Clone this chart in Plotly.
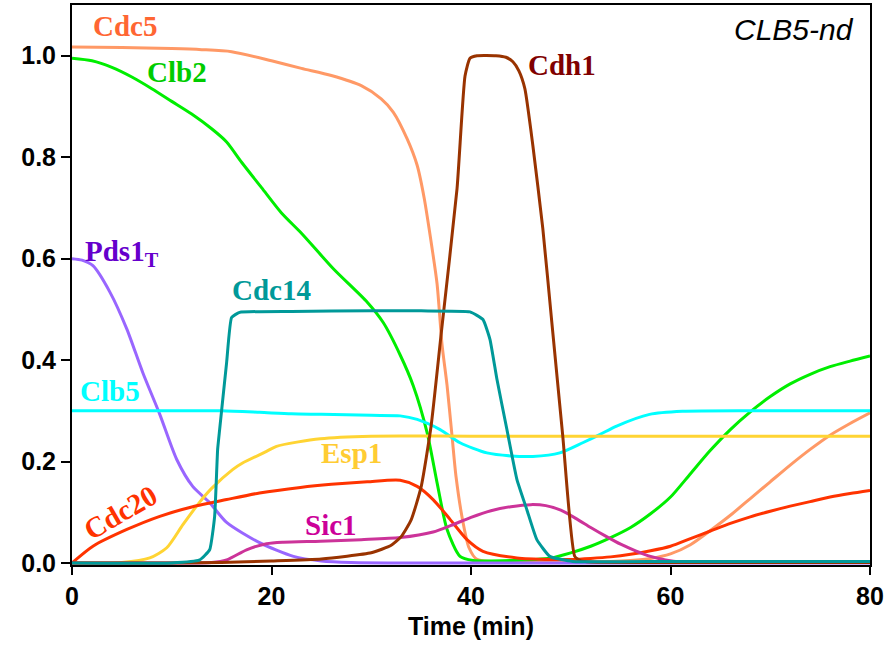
import plotly.graph_objects as go

# ---- data ----
cdc5_x = [0, 5, 10, 13, 16, 20, 23, 26, 29, 31, 32.2, 33.6, 34.6, 35.3, 36.1, 36.6, 37.1, 37.6, 38.1, 38.5, 39.2, 39.8, 40.6, 45, 50, 54, 56, 58, 60, 62, 64, 66, 68, 70, 72, 74, 76, 78, 80]
cdc5_y = [1.017, 1.016, 1.014, 1.012, 1.008, 0.99, 0.975, 0.961, 0.941, 0.915, 0.889, 0.836, 0.784, 0.72, 0.62, 0.55, 0.43, 0.35, 0.25, 0.17, 0.08, 0.03, 0.007, 0.002, 0.002, 0.003, 0.005, 0.009, 0.018, 0.036, 0.064, 0.094, 0.127, 0.16, 0.193, 0.224, 0.252, 0.275, 0.296]

clb2_x = [0, 2, 4, 6, 8, 10, 12, 14, 15.5, 17, 19, 21, 23, 26.2, 29.6, 31.2, 32.9, 34.2, 35.6, 36.6, 37.6, 38.9, 40.2, 44, 48, 50, 52, 54, 56, 58, 60, 62, 64, 66, 68, 70, 72, 74, 76, 78, 80]
clb2_y = [0.995, 0.99, 0.977, 0.958, 0.935, 0.91, 0.885, 0.856, 0.83, 0.79, 0.74, 0.69, 0.65, 0.58, 0.514, 0.474, 0.41, 0.35, 0.257, 0.158, 0.066, 0.013, 0.005, 0.005, 0.01, 0.02, 0.033, 0.05, 0.07, 0.097, 0.13, 0.176, 0.222, 0.263, 0.298, 0.328, 0.353, 0.372, 0.387, 0.398, 0.408]

cdh1_x = [0, 10, 15, 20, 25, 30, 32, 33, 34, 35, 36, 37, 38.6, 39.4, 39.9, 40.6, 42.5, 43.5, 44.2, 44.8, 45.4, 46.2, 47.2, 48.1, 49.2, 50.4, 51, 52, 60, 70, 80]
cdh1_y = [0, 0, 0.001, 0.004, 0.008, 0.02, 0.035, 0.052, 0.085, 0.15, 0.27, 0.45, 0.738, 0.96, 0.995, 1.0, 1.0, 0.997, 0.988, 0.97, 0.935, 0.823, 0.659, 0.475, 0.25, 0.013, 0.004, 0.002, 0.001, 0.001, 0.001]

pds1_x = [0, 1, 2.1, 3.8, 5.5, 7.1, 8.8, 10.5, 12.1, 13.8, 15.5, 18.8, 22.2, 25, 28, 35, 80]
pds1_y = [0.6, 0.597, 0.586, 0.534, 0.461, 0.375, 0.293, 0.204, 0.151, 0.119, 0.08, 0.04, 0.013, 0.004, 0.001, 0, 0]

cdc14_x = [0, 10, 12.8, 13.8, 14.3, 14.6, 14.8, 15.5, 16, 16.8, 22, 30, 35, 39.9, 41.2, 41.9, 42.6, 43.6, 44.6, 45.6, 46.6, 47.9, 50.2, 60, 80]
cdc14_y = [0, 0, 0.006, 0.026, 0.092, 0.224, 0.263, 0.395, 0.484, 0.494, 0.496, 0.497, 0.497, 0.495, 0.48, 0.441, 0.362, 0.263, 0.165, 0.105, 0.046, 0.013, 0.003, 0.003, 0.003]

clb5_x = [0, 10, 15, 18.8, 22, 25, 30, 32.9, 34.6, 36.9, 38.9, 41.6, 44, 46.2, 48.9, 51.2, 52.9, 54.6, 57.9, 61.2, 70, 80]
clb5_y = [0.3, 0.3, 0.3, 0.297, 0.294, 0.293, 0.291, 0.29, 0.283, 0.263, 0.237, 0.217, 0.211, 0.21, 0.217, 0.237, 0.253, 0.27, 0.293, 0.299, 0.3, 0.3]

esp1_x = [0, 5, 7.8, 9.5, 11.1, 12.8, 14, 16.1, 17.1, 19.5, 20.5, 24.9, 30, 40, 80]
esp1_y = [0, 0.001, 0.01, 0.03, 0.075, 0.12, 0.147, 0.184, 0.197, 0.22, 0.23, 0.245, 0.25, 0.25, 0.25]

cdc20_x = [0, 2.1, 5.5, 8.8, 12.1, 15.5, 18.8, 22.9, 26, 29.6, 32.9, 34.6, 36.2, 37.9, 39.6, 41.2, 44.6, 48, 50, 52, 54, 56, 58, 60, 62, 64, 66, 68, 70, 72, 74, 76, 78, 80]
cdc20_y = [0, 0.033, 0.066, 0.092, 0.111, 0.125, 0.138, 0.149, 0.155, 0.16, 0.163, 0.151, 0.125, 0.086, 0.046, 0.023, 0.01, 0.007, 0.007, 0.009, 0.012, 0.017, 0.024, 0.033, 0.048, 0.063, 0.078, 0.091, 0.102, 0.112, 0.121, 0.13, 0.137, 0.143]

sic1_x = [0, 10, 14, 15.5, 17.5, 19.5, 21.2, 24.9, 29, 32.9, 36.2, 38, 40, 42, 44, 46, 47.5, 49, 50.5, 52, 53.5, 55, 56.5, 58, 59.5, 61, 65, 80]
sic1_y = [0, 0, 0.001, 0.006, 0.026, 0.038, 0.041, 0.043, 0.046, 0.05, 0.061, 0.074, 0.09, 0.103, 0.111, 0.115, 0.113, 0.104, 0.088, 0.07, 0.053, 0.037, 0.024, 0.013, 0.006, 0.002, 0.001, 0.001]

x_ticks = [0, 20, 40, 60, 80]
y_ticks = [0.0, 0.2, 0.4, 0.6, 0.8, 1.0]
y_tick_text = ["0.0", "0.2", "0.4", "0.6", "0.8", "1.0"]

series = [
    ("Cdc5", cdc5_x, cdc5_y, "#FF9966", 0.7),
    ("Clb2", clb2_x, clb2_y, "#00EE00", 0.7),
    ("Pds1", pds1_x, pds1_y, "#9966FF", 0.7),
    ("Clb5", clb5_x, clb5_y, "#00FFFF", 0.7),
    ("Esp1", esp1_x, esp1_y, "#FFD433", 0.7),
    ("Cdc20", cdc20_x, cdc20_y, "#FF3300", 0.7),
    ("Sic1", sic1_x, sic1_y, "#CC3399", 0.7),
    ("Cdh1", cdh1_x, cdh1_y, "#993300", 0.5),
    ("Cdc14", cdc14_x, cdc14_y, "#009999", 0.4),
]

fig = go.Figure()
for name, xs, ys, col, sm in series:
    fig.add_trace(go.Scatter(x=xs, y=ys, mode="lines", name=name,
                             line=dict(color=col, width=3, shape="spline", smoothing=sm),
                             showlegend=False, hoverinfo="skip"))

serif = "Liberation Serif, Times New Roman, serif"
labels = [
    ("Cdc5", 5.3, 1.058, "#FF6633", 0),
    ("Clb2", 10.5, 0.968, "#00CC00", 0),
    ("Cdh1", 49.1, 0.982, "#800000", 0),
    ("Pds1<sub>T</sub>", 5.0, 0.612, "#6600CC", 0),
    ("Cdc14", 20.0, 0.538, "#009999", 0),
    ("Clb5", 3.8, 0.340, "#00FFFF", 0),
    ("Esp1", 28.0, 0.216, "#FFCC33", 0),
    ("Sic1", 26.0, 0.074, "#CC0099", 0),
    ("Cdc20", 4.9, 0.100, "#FF3300", -30),
]
for txt, ax, ay, col, ang in labels:
    fig.add_annotation(x=ax, y=ay, text=txt, showarrow=False, textangle=ang,
                       xanchor="center", yanchor="middle",
                       font=dict(family=serif, size=29, color=col, weight="bold"))

fig.add_annotation(x=0.983, y=0.99, xref="paper", yref="paper", text="<i>CLB5-nd</i>",
                   showarrow=False, xanchor="right", yanchor="top",
                   font=dict(family="Liberation Sans, Arial, sans-serif", size=30, color="black"))

axis_font = dict(family="Liberation Sans, Arial, sans-serif", size=25, color="black", weight="bold")
fig.update_layout(
    width=885, height=667,
    margin=dict(l=72, r=15, t=5, b=102),
    paper_bgcolor="white", plot_bgcolor="white",
    xaxis=dict(range=[0, 80], tickvals=x_ticks, ticks="outside", ticklen=8, tickwidth=1.5,
               tickcolor="black", showline=True, linecolor="black", linewidth=2, mirror=True,
               showgrid=False, zeroline=False, tickfont=axis_font, automargin=False,
               title=dict(text="Time (min)", font=dict(family="Liberation Sans, Arial, sans-serif",
                                                        size=25, color="black", weight="bold"), standoff=8)),
    yaxis=dict(range=[-0.004, 1.1], tickvals=y_ticks, ticktext=y_tick_text, ticks="outside",
               ticklen=9, tickwidth=1.5, tickcolor="black", showline=True, linecolor="black",
               linewidth=2, mirror=True, showgrid=False, zeroline=False, tickfont=axis_font,
               automargin=False),
)

fig.write_html("out.html")
